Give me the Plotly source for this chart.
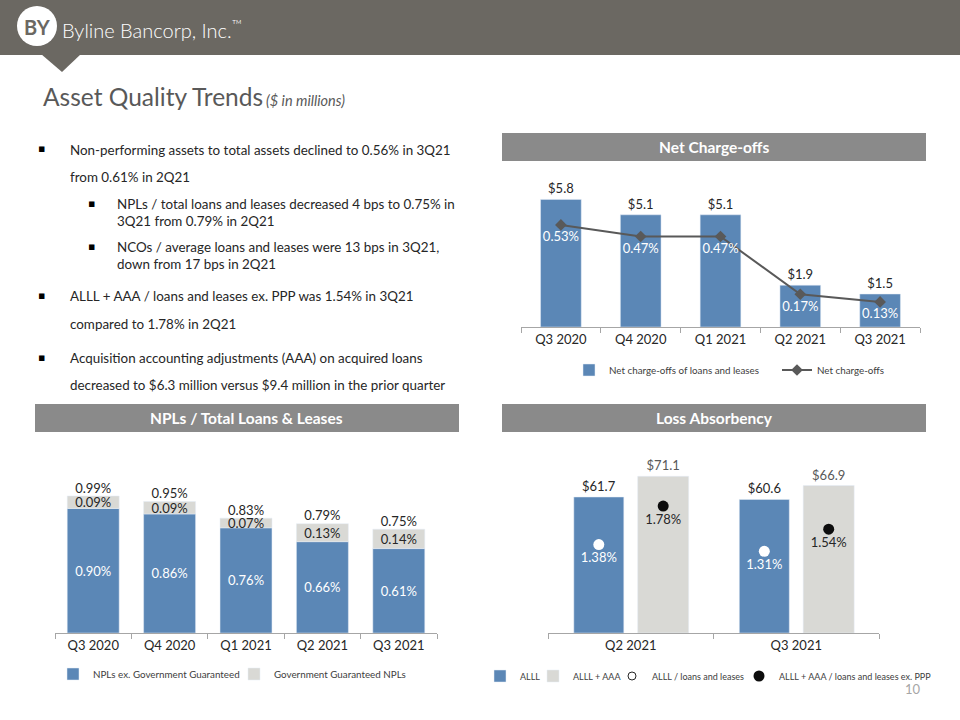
import plotly.graph_objects as go

W, H = 960, 720
def px(x):
    return x / W
def py(y):
    return 1 - y / H

FONT = "Lato"
BLUE = "#5b87b6"
LGRAY = "#d9d9d5"
DARK = "#595959"
TXT = "#262626"

# ---------------- data ----------------
nco_quarters = ["Q3 2020", "Q4 2020", "Q1 2021", "Q2 2021", "Q3 2021"]
nco_amounts = [5.8, 5.1, 5.1, 1.9, 1.5]
nco_amount_labels = ["$5.8", "$5.1", "$5.1", "$1.9", "$1.5"]
nco_rates = [0.53, 0.47, 0.47, 0.17, 0.13]
nco_rate_labels = ["0.53%", "0.47%", "0.47%", "0.17%", "0.13%"]

npl_quarters = ["Q3 2020", "Q4 2020", "Q1 2021", "Q2 2021", "Q3 2021"]
npl_ex_gov = [0.90, 0.86, 0.76, 0.66, 0.61]
npl_gov = [0.09, 0.09, 0.07, 0.13, 0.14]
npl_total = [0.99, 0.95, 0.83, 0.79, 0.75]

la_quarters = ["Q2 2021", "Q3 2021"]
la_alll = [61.7, 60.6]
la_alll_aaa = [71.1, 66.9]
la_alll_ratio = [1.38, 1.31]
la_alll_aaa_ratio = [1.78, 1.54]

bullets = [
    (0, "Non-performing assets to total assets declined to 0.56% in 3Q21", 150),
    (0, "from 0.61% in 2Q21", 177),
    (1, "NPLs / total loans and leases decreased 4 bps to 0.75% in", 204),
    (1, "3Q21 from 0.79% in 2Q21", 221),
    (1, "NCOs / average loans and leases were 13 bps in 3Q21,", 247),
    (1, "down from 17 bps in 2Q21", 264),
    (0, "ALLL + AAA / loans and leases ex. PPP was 1.54% in 3Q21", 296),
    (0, "compared to 1.78% in 2Q21", 324),
    (0, "Acquisition accounting adjustments (AAA) on acquired loans", 358),
    (0, "decreased to $6.3 million versus $9.4 million in the prior quarter", 385),
]
bullet_first_lines = [0, 2, 4, 6, 8]

fig = go.Figure()

# ---------------- Net charge-offs ----------------
fig.add_trace(go.Bar(
    x=nco_quarters, y=nco_amounts, text=nco_amount_labels,
    textposition="outside", textfont=dict(family=FONT, size=13, color=TXT),
    marker_color=BLUE, width=0.51, cliponaxis=False,
    name="Net charge-offs of loans and leases", xaxis="x", yaxis="y",
    legend="legend", hoverinfo="skip"))
fig.add_trace(go.Scatter(
    x=nco_quarters, y=nco_rates, text=nco_rate_labels, mode="lines+markers+text",
    textposition="bottom center", textfont=dict(family=FONT, size=13, color="white"),
    line=dict(color=DARK, width=2), marker=dict(symbol="diamond", size=9, color=DARK),
    name="Net charge-offs", xaxis="x", yaxis="y2", legend="legend2", cliponaxis=False,
    hoverinfo="skip"))

# ---------------- NPLs ----------------
fig.add_trace(go.Bar(
    x=npl_quarters, y=npl_ex_gov, text=[f"{v:.2f}%" for v in npl_ex_gov],
    textposition="inside", insidetextanchor="middle", textangle=0, constraintext="none",
    textfont=dict(family=FONT, size=13, color="white"),
    marker_color=BLUE, width=0.68, name="NPLs ex. Government Guaranteed",
    xaxis="x2", yaxis="y3", legend="legend3", hoverinfo="skip"))
fig.add_trace(go.Bar(
    x=npl_quarters, y=npl_gov, base=npl_ex_gov, text=[f"{v:.2f}%" for v in npl_gov],
    textposition="inside", insidetextanchor="middle", textangle=0, constraintext="none",
    textfont=dict(family=FONT, size=13, color=TXT),
    marker_color=LGRAY, width=0.68, name="Government Guaranteed NPLs",
    xaxis="x2", yaxis="y3", legend="legend4", hoverinfo="skip"))
fig.add_trace(go.Scatter(
    x=npl_quarters, y=npl_total, text=[f"{v:.2f}%" for v in npl_total], mode="text",
    textposition="top center", textfont=dict(family=FONT, size=13, color=TXT),
    showlegend=False, xaxis="x2", yaxis="y3", cliponaxis=False, hoverinfo="skip"))

# ---------------- Loss absorbency ----------------
la_idx = list(range(len(la_quarters)))
OFF1, WID1 = -0.344, 0.302
OFF2, WID2 = 0.042, 0.308
fig.add_trace(go.Bar(
    x=la_idx, y=la_alll, text=[f"${v:.1f}" for v in la_alll], textposition="outside",
    textfont=dict(family=FONT, size=13, color=TXT), offset=OFF1, width=WID1,
    marker_color=BLUE, name="ALLL", xaxis="x3", yaxis="y4", legend="legend5",
    cliponaxis=False, hoverinfo="skip"))
fig.add_trace(go.Bar(
    x=la_idx, y=la_alll_aaa, text=[f"${v:.1f}" for v in la_alll_aaa], textposition="outside",
    textfont=dict(family=FONT, size=13, color=DARK), offset=OFF2, width=WID2,
    marker_color=LGRAY, name="ALLL + AAA", xaxis="x3", yaxis="y4", legend="legend6",
    cliponaxis=False, hoverinfo="skip"))
fig.add_trace(go.Scatter(
    x=[i + OFF1 + WID1 / 2 for i in la_idx], y=la_alll_ratio,
    text=[f"{v:.2f}%" for v in la_alll_ratio], mode="markers+text",
    textposition="bottom center", textfont=dict(family=FONT, size=13, color="white"),
    marker=dict(symbol="circle", size=11, color="white"), showlegend=False,
    xaxis="x3", yaxis="y5", cliponaxis=False, hoverinfo="skip"))
fig.add_trace(go.Scatter(
    x=[None], y=[None], mode="markers", name="ALLL / loans and leases",
    marker=dict(symbol="circle", size=8, color="white", line=dict(color="#262626", width=1)),
    xaxis="x3", yaxis="y5", legend="legend7", hoverinfo="skip"))
fig.add_trace(go.Scatter(
    x=[i + OFF2 + WID2 / 2 for i in la_idx], y=la_alll_aaa_ratio,
    text=[f"{v:.2f}%" for v in la_alll_aaa_ratio], mode="markers+text",
    textposition="bottom center", textfont=dict(family=FONT, size=13, color=TXT),
    marker=dict(symbol="circle", size=11, color="#0d0d0d"),
    name="ALLL + AAA / loans and leases ex. PPP",
    xaxis="x3", yaxis="y5", legend="legend8", cliponaxis=False, hoverinfo="skip"))

AXCOL = "#a6a6a6"
cat_axis = dict(type="category", showline=True, linecolor=AXCOL, linewidth=1,
                ticks="outside", tickson="boundaries", ticklen=5, tickcolor=AXCOL,
                tickfont=dict(family=FONT, size=13, color=TXT), showgrid=False,
                zeroline=False, fixedrange=True)
hidden = dict(visible=False, showgrid=False, zeroline=False, fixedrange=True)

LEG_TEXT_OFF = 40  # px from legend left edge to the start of its text
def leg(text_x, y, size=9.8):
    return dict(orientation="h", font=dict(family=FONT, size=size, color="#404040"),
                bgcolor="rgba(0,0,0,0)", itemwidth=30, xanchor="left", yanchor="middle",
                x=px(text_x - LEG_TEXT_OFF), y=py(y), itemclick=False, itemdoubleclick=False)

fig.update_layout(
    width=W, height=H, margin=dict(l=0, r=0, t=0, b=0),
    paper_bgcolor="white", plot_bgcolor="white",
    barmode="overlay", showlegend=True,
    xaxis=dict(domain=[px(521), px(920)], anchor="y", range=[-0.5, 4.5], **cat_axis),
    yaxis=dict(domain=[py(327), py(180)], range=[0, 147 / 22.0], **hidden),
    yaxis2=dict(overlaying="y", range=[0, 147 / 192.5], anchor="x", **hidden),
    xaxis2=dict(domain=[px(55), px(437)], anchor="y3", range=[-0.5, 4.5], **cat_axis),
    yaxis3=dict(domain=[py(633), py(460)], range=[0, 173 / 138.4], anchor="x2", **hidden),
    xaxis3=dict(domain=[px(548), px(879)], anchor="y4", type="linear", range=[-0.5, 1.5],
                tickvals=la_idx, ticktext=la_quarters, ticks="", showline=True,
                linecolor=AXCOL, linewidth=1, showgrid=False, zeroline=False,
                tickfont=dict(family=FONT, size=13, color=TXT), fixedrange=True,
                minor=dict(tickvals=[-0.5, 0.5, 1.5], ticks="outside", ticklen=5,
                           tickcolor=AXCOL, showgrid=False)),
    yaxis4=dict(domain=[py(633), py(440)], range=[0, 193 / 2.204], anchor="x3", **hidden),
    yaxis5=dict(overlaying="y4", range=[0.461, 2.466], anchor="x3", **hidden),
    legend=leg(609, 370),
    legend2=leg(817, 370),
    legend3=leg(93, 674),
    legend4=leg(274, 674),
    legend5=leg(520, 676, 9),
    legend6=leg(573, 676, 9),
    legend7=leg(652, 676, 9),
    legend8=leg(779, 676, 9),
)

shapes = []
annotations = []

# header band
shapes.append(dict(type="rect", xref="paper", yref="paper", x0=0, x1=1, y0=py(55), y1=1,
                   fillcolor="#6b6862", line_width=0, layer="below"))
shapes.append(dict(type="path", xref="paper", yref="paper",
                   path=f"M {px(41)},{py(54)} L {px(81)},{py(54)} L {px(62)},{py(72)} Z",
                   fillcolor="#6b6862", line_width=0, layer="below"))
shapes.append(dict(type="circle", xref="paper", yref="paper", x0=px(17), x1=px(57),
                   y0=py(46), y1=py(6), fillcolor="white", line_width=0))
annotations.append(dict(x=px(37), y=py(27), xref="paper", yref="paper", text="<b>BY</b>",
                        showarrow=False, font=dict(family=FONT, size=20, color="#6b6862"),
                        xanchor="center", yanchor="middle"))
annotations.append(dict(x=px(60), y=py(29), xref="paper", yref="paper",
                        text="Byline Bancorp, Inc.<sup style='font-size:7px'>™</sup>",
                        showarrow=False, font=dict(family=FONT, size=20, color="white", weight=300),
                        xanchor="left", yanchor="middle"))

# title
annotations.append(dict(x=px(41), y=py(97), xref="paper", yref="paper", text="Asset Quality Trends",
                        showarrow=False, font=dict(family=FONT, size=24.5, color=DARK),
                        xanchor="left", yanchor="middle"))
annotations.append(dict(x=px(264), y=py(101), xref="paper", yref="paper", text="<i>($ in millions)</i>",
                        showarrow=False, font=dict(family=FONT, size=14.5, color=DARK),
                        xanchor="left", yanchor="middle"))

# bullets
for i, (lvl, txt, yy) in enumerate(bullets):
    tx = 68 if lvl == 0 else 115
    bx = 41 if lvl == 0 else 91
    annotations.append(dict(x=px(tx), y=py(yy), xref="paper", yref="paper", text=txt,
                            showarrow=False, font=dict(family=FONT, size=13.4, color=TXT),
                            xanchor="left", yanchor="middle"))
    if i in bullet_first_lines:
        annotations.append(dict(x=px(bx), y=py(yy - 1), xref="paper", yref="paper", text="▪",
                                showarrow=False, font=dict(family="DejaVu Sans", size=11, color="#000"),
                                xanchor="center", yanchor="middle"))

# section headers
for (x0, x1, y0, y1, label) in [(502, 926, 133, 161, "Net Charge-offs"),
                                (35, 459, 404, 432, "NPLs / Total Loans &amp; Leases"),
                                (502, 926, 404, 432, "Loss Absorbency")]:
    shapes.append(dict(type="rect", xref="paper", yref="paper", x0=px(x0), x1=px(x1),
                       y0=py(y1), y1=py(y0), fillcolor="#8a8a8a", line_width=0, layer="below"))
    annotations.append(dict(x=px((x0 + x1) / 2), y=py((y0 + y1) / 2), xref="paper", yref="paper",
                            text=f"<b>{label}</b>", showarrow=False,
                            font=dict(family=FONT, size=15.5, color="white"),
                            xanchor="center", yanchor="middle"))

# page number
annotations.append(dict(x=px(913), y=py(689), xref="paper", yref="paper", text="10",
                        showarrow=False, font=dict(family=FONT, size=13, color="#a6a6a6"),
                        xanchor="center", yanchor="middle"))

fig.update_layout(shapes=shapes, annotations=annotations)
fig.write_html("out.html", config={"displayModeBar": False},
               post_script="document.body.style.margin='0';document.body.style.overflow='hidden';")
